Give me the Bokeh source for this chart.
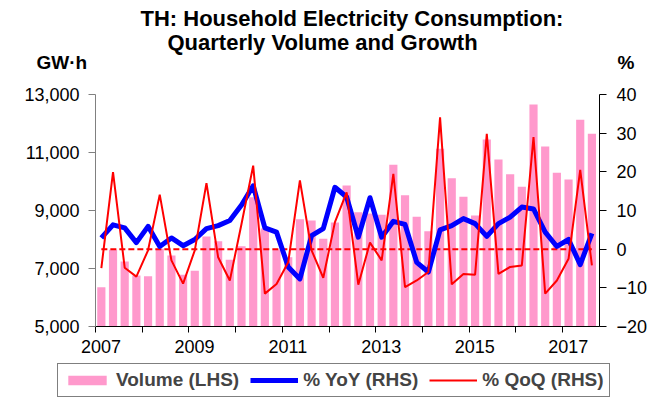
import numpy as np
from bokeh.plotting import figure
from bokeh.models import (ColumnDataSource, Range1d, LinearAxis, FixedTicker,
                          NumeralTickFormatter, Legend, LegendItem, Label)
from bokeh.embed import file_html
from bokeh.resources import INLINE

# ---- data ----
quarters = [f"{y}Q{q}" for y in range(2007, 2018) for q in range(1, 5)][:43]

volume = [6355, 7644, 7241, 6759, 6736, 7678, 7448, 6782, 6920, 8103, 7942,
          7305, 7765, 9460, 8380, 7650, 7390, 8700, 8655, 8030, 8590, 9860,
          8942, 8900, 8855, 10575, 9529, 8782, 8287, 11127, 10114, 9471, 8828,
          11448, 10759, 10253, 9816, 12655, 11207, 10299, 10069, 12126, 11644]

yoy = [2.9, 6.3, 5.5, 1.7, 5.9, 0.7, 2.9, 0.9, 2.5, 5.3, 6.1,
       7.4, 11.4, 16.4, 5.5, 4.4, -4.6, -7.7, 3.5, 5.3, 16.0, 13.5,
       3.1, 13.3, 3.1, 7.2, 6.4, -3.4, -5.9, 5.0, 6.1, 7.9, 6.6,
       3.3, 6.6, 8.3, 10.9, 10.4, 4.4, 0.7, 2.5, -4.0, 4.1]

qoq = [-4.9, 19.9, -4.8, -7.1, -0.3, 14.1, -2.9, -8.9, -0.3, 17.1, -2.1,
       -8.1, 6.5, 21.6, -11.5, -9.0, -3.4, 17.8, -0.3, -7.4, 7.0, 14.7,
       -9.2, 1.7, -2.9, 19.5, -9.8, -8.1, -5.9, 34.1, -9.1, -6.4, -6.6,
       29.8, -6.4, -4.6, -4.2, 29.0, -11.5, -8.1, -2.5, 20.5, -4.2]

zero_line = [0.0] * len(quarters)

left_ticks = [5000, 7000, 9000, 11000, 13000]
right_ticks = [-20, -10, 0, 10, 20, 30, 40]
year_labels = ["2007", "2009", "2011", "2013", "2015", "2017"]
years_all = list(range(2007, 2018))

title_1 = "TH: Household Electricity Consumption:"
title_2 = "Quarterly Volume and Growth"
unit_left = "GW\u00b7h"
unit_right = "%"

FONT = "Liberation Sans"

# ---- layout: the frame fills the canvas, axes sit at fixed data locations ----
W, H = 647, 403
AX_L, AX_R, AX_T, AX_B = 95, 599, 94, 326   # pixel box of the axes
X0, X1 = 0.0, 43.15                          # quarters shown on the axis
L0, L1 = 5000, 13000
R0, R1 = -20, 40

xpp = (X1 - X0) / (AX_R - AX_L)
lpp = (L1 - L0) / (AX_B - AX_T)
rpp = (R1 - R0) / (AX_B - AX_T)

x = np.arange(len(quarters)) + 0.5
src = ColumnDataSource(dict(x=x, q=quarters, vol=volume, yoy=yoy, qoq=qoq, zero=zero_line))

p = figure(width=W, height=H, output_backend="svg", toolbar_location=None,
           title=None, min_border=0,
           x_range=Range1d(X0 - AX_L * xpp, X1 + (W - AX_R) * xpp),
           y_range=Range1d(L0 - (H - AX_B) * lpp, L1 + AX_T * lpp))
p.min_border_left = p.min_border_right = p.min_border_top = p.min_border_bottom = 0
p.xgrid.visible = False
p.ygrid.visible = False
p.outline_line_color = None
p.background_fill_color = "white"
p.border_fill_color = "white"
p.extra_y_ranges = {"pct": Range1d(R0 - (H - AX_B) * rpp, R1 + AX_T * rpp)}

bars = p.vbar(x="x", top="vol", bottom=L0, width=0.7, fill_color="#FF99CC",
              line_color=None, source=src)
p.line(x="x", y="zero", y_range_name="pct", line_color="#FF0000", line_width=2,
       line_dash="6 3", source=src)
blue = p.line(x="x", y="yoy", y_range_name="pct", line_color="#0000FF", line_width=5,
              line_join="round", source=src)
red = p.line(x="x", y="qoq", y_range_name="pct", line_color="#FF0000", line_width=2,
             source=src)

# left axis
ya = p.yaxis[0]
ya.fixed_location = X0
ya.bounds = (L0, L1)
ya.ticker = FixedTicker(ticks=left_ticks)
ya.formatter = NumeralTickFormatter(format="0,0")
ya.major_tick_in = 0
ya.major_tick_out = 7
ya.minor_tick_line_color = None
ya.axis_line_color = "#808080"
ya.major_tick_line_color = "#808080"
ya.major_label_standoff = 9
ya.major_label_text_font = FONT
ya.major_label_text_font_size = "18px"
ya.major_label_text_color = "black"

# right axis
ra = LinearAxis(y_range_name="pct", ticker=FixedTicker(ticks=right_ticks))
ra.fixed_location = X1
ra.bounds = (R0, R1)
ra.major_tick_in = 0
ra.major_tick_out = 7
ra.minor_tick_line_color = None
ra.axis_line_color = "black"
ra.major_tick_line_color = "black"
ra.major_label_standoff = 10
ra.major_label_text_font = FONT
ra.major_label_text_font_size = "18px"
ra.major_label_text_color = "black"
p.add_layout(ra, "right")

# x axis: minor ticks at year boundaries, labels every other year
year_pos = [(yr - 2007) * 4 for yr in years_all]
label_pos = [(int(lbl) - 2007) * 4 + 0.47 for lbl in year_labels]
xa = p.xaxis[0]
xa.fixed_location = L0
xa.bounds = (X0, X1)
xa.ticker = FixedTicker(ticks=label_pos, minor_ticks=year_pos)
xa.major_label_overrides = {pos: lbl for pos, lbl in zip(label_pos, year_labels)}
xa.major_tick_line_color = None
xa.major_tick_in = 0
xa.major_tick_out = 0
xa.minor_tick_in = 0
xa.minor_tick_out = 6
xa.minor_tick_line_color = "black"
xa.axis_line_color = "black"
xa.major_label_standoff = 7
xa.major_label_text_font = FONT
xa.major_label_text_font_size = "18px"
xa.major_label_text_color = "black"

# legend under the axes, boxed
legend = Legend(items=[LegendItem(label="Volume (LHS)", renderers=[bars]),
                       LegendItem(label="% YoY (RHS)", renderers=[blue]),
                       LegendItem(label="% QoQ (RHS)", renderers=[red])],
                orientation="horizontal", location=(57, 6),
                label_text_font=FONT, label_text_font_style="bold",
                label_text_font_size="19px", glyph_width=48, glyph_height=12,
                label_height=19, label_standoff=5, spacing=11, padding=5, margin=0,
                border_line_color="black", border_line_width=1,
                background_fill_color="white", background_fill_alpha=1.0)
p.add_layout(legend)

def caption(txt, left_px, mid_px, size):
    p.add_layout(Label(x=left_px, y=H - mid_px, x_units="screen", y_units="screen",
                       text=txt, text_font=FONT, text_font_size=size,
                       text_font_style="bold", text_align="left",
                       text_baseline="middle", text_color="black"))

caption(title_1, 140, 18, "22px")
caption(title_2, 167, 42, "22px")
caption(unit_left, 36, 62, "19px")
caption(unit_right, 617, 62, "19px")

open("out.html", "w").write(file_html(p, INLINE))
